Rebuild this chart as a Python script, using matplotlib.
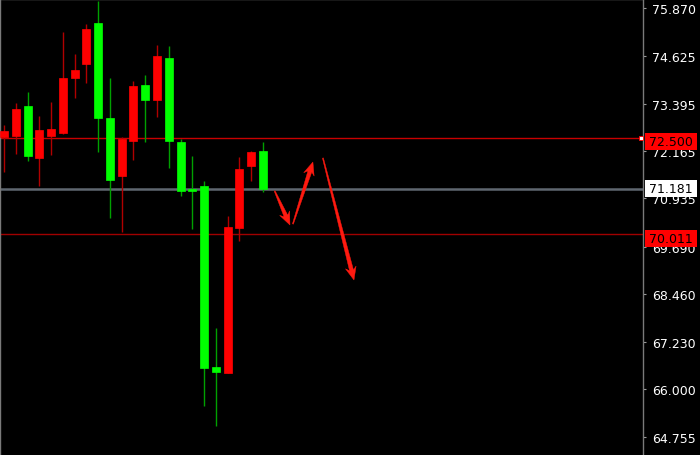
import matplotlib
matplotlib.use("Agg")
import numpy as np
import matplotlib.pyplot as plt
from matplotlib.patches import Polygon, Rectangle

# ---- data ----
opens  = [72.528, 72.554, 73.331, 71.984, 72.554, 72.632, 74.057, 74.419, 75.481, 73.020,
          71.518, 72.424, 73.875, 73.487, 74.575, 72.399, 71.168, 71.259, 66.570, 66.414,
          70.171, 71.777, 72.165]
highs  = [72.839, 73.409, 73.694, 73.072, 73.435, 75.248, 74.678, 75.455, 76.051, 74.057,
          72.528, 73.979, 74.134, 74.911, 74.886, 72.476, 72.036, 71.388, 67.580, 70.481,
          72.010, 72.165, 72.399]
lows   = [71.621, 72.088, 71.906, 71.259, 72.062, 72.606, 73.538, 73.927, 72.139, 70.430,
          70.067, 71.932, 72.399, 73.046, 71.725, 71.000, 70.145, 65.559, 65.041, 66.414,
          69.834, 71.388, 71.103]
closes = [72.683, 73.253, 72.036, 72.709, 72.735, 74.057, 74.264, 75.326, 73.020, 71.414,
          72.476, 73.849, 73.487, 74.626, 72.424, 71.129, 71.142, 66.544, 66.440, 70.197,
          71.699, 72.139, 71.181]

tick_values = [75.870, 74.625, 73.395, 72.165, 70.935, 69.690, 68.460, 67.230, 66.000, 64.755]

level_values = [72.500, 71.181, 70.011]
level_labels = ["72.500", "71.181", "70.011"]

# arrows: start / tip in bar index / price
arrow_starts_x = [23.0, 24.55, 27.1]
arrow_starts_y = [71.130, 70.274, 71.984]
arrow_ends_x   = [24.3, 26.25, 29.74]
arrow_ends_y   = [70.248, 71.880, 68.823]

# ---- figure ----
fig = plt.figure(figsize=(7.0, 4.56), dpi=100, facecolor="black")
ax = fig.add_axes([0.0, 0.0, 643 / 700, 1.0])
ax.set_facecolor("black")

BULL = "#ff0000"
BEAR = "#00ff00"
BULL_W = "#b00000"
BEAR_W = "#00a000"

for i, (o, h, l, c) in enumerate(zip(opens, highs, lows, closes)):
    up = c > o
    body_c = BULL if up else BEAR
    wick_c = BULL_W if up else BEAR_W
    ax.vlines(i, l, h, color=wick_c, linewidth=1.0, zorder=2)
    lo_b, hi_b = min(o, c), max(o, c)
    ht = max(hi_b - lo_b, 0.03)
    ax.bar(i, ht, bottom=lo_b, width=0.68, color=body_c, edgecolor=body_c,
           linewidth=0.5, zorder=3)

# horizontal level lines
ax.axhline(level_values[0], color="#c80000", linewidth=1.0, zorder=1)
ax.axhline(level_values[1], color="#5f6770", linewidth=1.8, zorder=1)
ax.axhline(level_values[2], color="#a00000", linewidth=1.0, zorder=1)
ax.plot([0.997], [level_values[0]], marker="s", markersize=3, mfc="white",
        mec="#ff0000", mew=0.6, transform=ax.get_yaxis_transform(), clip_on=False, zorder=5)

# axes limits
ax.set_xlim(-0.34, 54.3)
ax.set_ylim(64.29, 76.103)
ax.set_xticks([])
ax.yaxis.tick_right()
ax.set_yticks(tick_values)
ax.set_yticklabels([f"{v:.3f}" for v in tick_values])
ax.tick_params(axis="y", direction="out", length=2.5, width=0.8, color="#9a9a9a",
               labelcolor="white", labelsize=9, pad=4)
for s in ["top", "left", "right"]:
    ax.spines[s].set_color("#7a7a7a")
    ax.spines[s].set_linewidth(1.0)
ax.spines["bottom"].set_visible(False)

# arrows drawn as tapered polygons (display coordinates derived from data)
def arrow_poly(p0, p1, head_len=13.0, head_w=11.0, notch=3.0, tail_w0=1.0, tail_w1=4.0):
    p0 = np.asarray(p0, float)
    p1 = np.asarray(p1, float)
    d = p1 - p0
    L = np.hypot(*d)
    u = d / L
    n = np.array([-u[1], u[0]])
    base = p1 - u * head_len
    neck = p1 - u * (head_len - notch)
    pts = [
        p0 + n * tail_w0 / 2,
        neck + n * tail_w1 / 2,
        base + n * head_w / 2,
        p1,
        base - n * head_w / 2,
        neck - n * tail_w1 / 2,
        p0 - n * tail_w0 / 2,
    ]
    return np.array(pts)

for xs, ys, xe, ye in zip(arrow_starts_x, arrow_starts_y, arrow_ends_x, arrow_ends_y):
    d0 = ax.transData.transform((xs, ys))
    d1 = ax.transData.transform((xe, ye))
    poly = Polygon(arrow_poly(d0, d1), closed=True, transform=None,
                   facecolor="#ff1a10", edgecolor="#ff1a10", linewidth=0.3, zorder=4)
    ax.add_artist(poly)

# price-level labels (boxes on the price scale)
label_fc = ["#ff0000", "white", "#ff0000"]
label_dy = [-3.4, 0.3, -4.2]
x_right = ax.transAxes.transform((1, 0))[0]
for v, txt, fc, dy in zip(level_values, level_labels, label_fc, label_dy):
    yd = ax.transData.transform((0, v))[1] + dy
    rect = Rectangle((x_right + 2, yd - 8.3), 52, 16.6, transform=None,
                     facecolor=fc, edgecolor="none", clip_on=False, zorder=9)
    ax.add_artist(rect)
    ax.text(x_right + 28, yd, txt, transform=None, ha="center", va="center",
            color="black", fontsize=9, clip_on=False, zorder=10)

fig.savefig("out.png", dpi=100, facecolor="black")
